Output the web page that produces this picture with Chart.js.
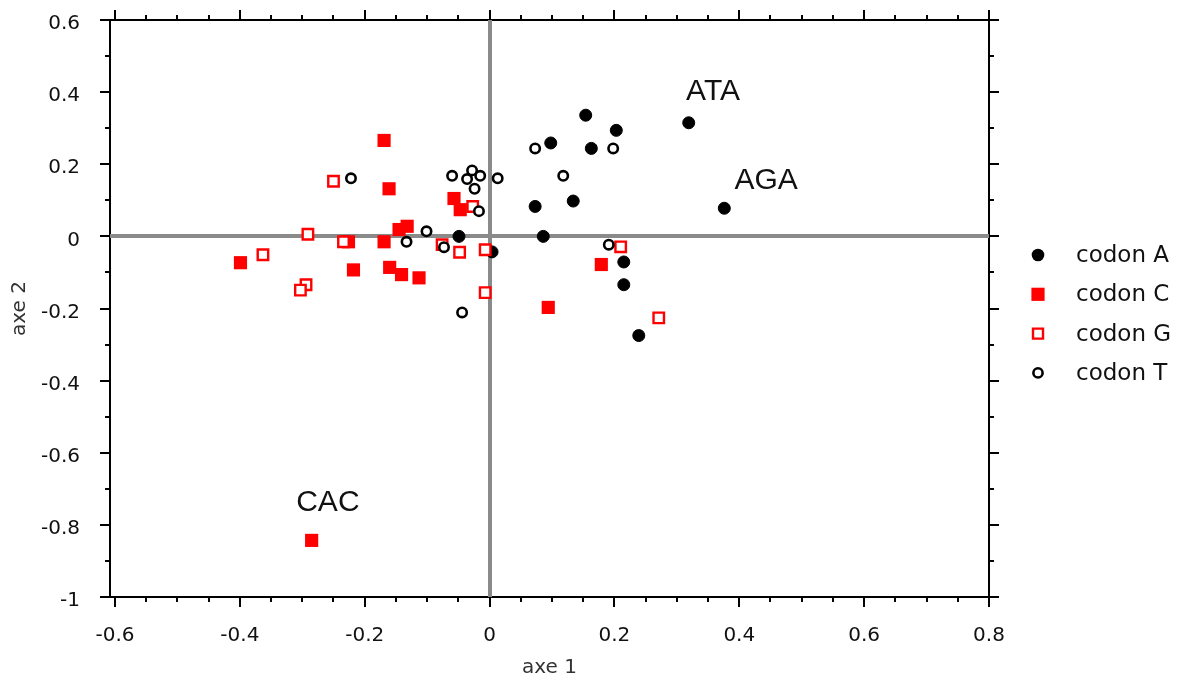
<!DOCTYPE html>
<html>
<head>
<meta charset="utf-8">
<script src="https://cdn.jsdelivr.net/npm/chart.js@4.4.0/dist/chart.umd.min.js"></script>
<style>
  html, body { margin: 0; padding: 0; background: #fff; }
  #wrap { width: 1188px; height: 686px; }
</style>
</head>
<body>
<div id="wrap"><canvas id="chart" width="1188" height="686"></canvas></div>
<script>
// series names
const seriesNames = ['codon A', 'codon C', 'codon G', 'codon T'];

// codon A (black dots)
const codonAx = [0.154, 0.319, 0.203, 0.098, 0.163, 0.073, 0.134, -0.049, 0.086, 0.004, 0.215, 0.215, 0.239, 0.376];
const codonAy = [0.336, 0.315, 0.294, 0.259, 0.244, 0.083, 0.098, 0.000, 0.000, -0.043, -0.071, -0.134, -0.275, 0.078];

// codon C (red squares)
const codonCx = [-0.169, -0.161, -0.057, -0.047, -0.132, -0.145, -0.226, -0.169, -0.399, -0.218, -0.160, -0.141, -0.113, -0.285, 0.094, 0.179];
const codonCy = [0.266, 0.132, 0.105, 0.074, 0.028, 0.019, -0.015, -0.015, -0.073, -0.093, -0.086, -0.106, -0.115, -0.843, -0.197, -0.078];

// codon G (open red squares)
const codonGx = [-0.250, -0.291, -0.363, -0.294, -0.303, -0.234, -0.027, -0.076, -0.048, -0.007, -0.007, 0.210, 0.271];
const codonGy = [0.153, 0.006, -0.051, -0.134, -0.149, -0.015, 0.083, -0.023, -0.044, -0.037, -0.156, -0.029, -0.226];

// codon T (open black circles)
const codonTx = [-0.222, -0.060, -0.028, -0.036, -0.015, -0.024, -0.017, -0.101, -0.133, -0.073, -0.044, 0.013, 0.073, 0.198, 0.118, 0.191];
const codonTy = [0.161, 0.168, 0.183, 0.159, 0.168, 0.132, 0.070, 0.014, -0.015, -0.030, -0.211, 0.161, 0.244, 0.244, 0.168, -0.023];

// tick labels
const xTicks = [-0.6, -0.4, -0.2, 0, 0.2, 0.4, 0.6, 0.8];
const yTicks = [-1, -0.8, -0.6, -0.4, -0.2, 0, 0.2, 0.4, 0.6];

// text labels next to some points (data coords)
const noteText = ['ATA', 'AGA', 'CAC'];
const noteX = [0.358, 0.443, -0.259];
const noteY = [0.400, 0.153, -0.739];

const TICK_FONT = 'DejaVu Sans';

function toPoints(xs, ys) {
    return xs.map((x, i) => ({ x: x, y: ys[i] }));
}

// drop the overhang padding chart.js adds for tick labels
function noPad(s) {
    s.paddingTop = 0; s.paddingBottom = 0;
    s.paddingLeft = 0; s.paddingRight = 0;
}

// gray zero lines behind the points
const zeroLines = {
    id: 'zeroLines',
    beforeDatasetsDraw(chart) {
        const { ctx, chartArea: a, scales: { x, y } } = chart;
        const px = Math.round(x.getPixelForValue(0));
        const py = Math.round(y.getPixelForValue(0));
        ctx.save();
        ctx.strokeStyle = '#8a8a8a';
        ctx.lineWidth = 4;
        ctx.beginPath();
        ctx.moveTo(a.left, py); ctx.lineTo(a.right, py);
        ctx.moveTo(px, a.top); ctx.lineTo(px, a.bottom);
        ctx.stroke();
        ctx.restore();
    }
};

// outward major/minor ticks on all four sides
const frameTicks = {
    id: 'frameTicks',
    afterDraw(chart) {
        const { ctx, chartArea: a, scales: { x, y } } = chart;
        ctx.save();
        ctx.strokeStyle = '#000';
        ctx.lineWidth = 2;
        ctx.beginPath();
        for (let k = 0; k <= 28; k++) {
            const v = -0.6 + k * 0.05;
            const len = k % 4 === 0 ? 10 : 5;
            const px = Math.round(x.getPixelForValue(v));
            ctx.moveTo(px, a.bottom); ctx.lineTo(px, a.bottom + len);
            ctx.moveTo(px, a.top); ctx.lineTo(px, a.top - len);
        }
        for (let k = 0; k <= 16; k++) {
            const v = -1 + k * 0.1;
            const len = k % 2 === 0 ? 10 : 5;
            const py = Math.round(y.getPixelForValue(v));
            ctx.moveTo(a.left, py); ctx.lineTo(a.left - len, py);
            ctx.moveTo(a.right, py); ctx.lineTo(a.right + len, py);
        }
        ctx.stroke();
        ctx.restore();
    }
};

// ATA / AGA / CAC texts and the legend on the right
const notesAndLegend = {
    id: 'notesAndLegend',
    afterDraw(chart) {
        const { ctx, scales: { x, y } } = chart;
        ctx.save();
        ctx.fillStyle = '#111';
        ctx.font = '30px "Liberation Sans", Arial, sans-serif';
        ctx.textAlign = 'center';
        ctx.textBaseline = 'middle';
        noteText.forEach((t, i) => {
            ctx.fillText(t, x.getPixelForValue(noteX[i]), y.getPixelForValue(noteY[i]));
        });

        // legend
        const sizes = [6.3, 6.6, 5, 4.6];
        chart.data.datasets.forEach((ds, i) => {
            const cx = 1038, cy = 255 + i * 39.3;
            ctx.beginPath();
            if (ds.pointStyle === 'circle') {
                ctx.arc(cx, cy, sizes[i], 0, Math.PI * 2);
            } else {
                ctx.rect(cx - sizes[i], cy - sizes[i], sizes[i] * 2, sizes[i] * 2);
            }
            ctx.fillStyle = ds.backgroundColor;
            ctx.fill();
            if (ds.borderWidth > 1) {
                ctx.lineWidth = ds.borderWidth;
                ctx.strokeStyle = ds.borderColor;
                ctx.stroke();
            }
            ctx.fillStyle = '#111';
            ctx.font = '23px "' + TICK_FONT + '"';
            ctx.textAlign = 'left';
            ctx.textBaseline = 'middle';
            ctx.fillText(ds.label, 1076, cy + 1);
        });
        ctx.restore();
    }
};

document.addEventListener('DOMContentLoaded', () => {
    const ctx = document.getElementById('chart').getContext('2d');

    new Chart(ctx, {
        type: 'scatter',
        data: {
            datasets: [
                {
                    label: seriesNames[0],
                    data: toPoints(codonAx, codonAy),
                    pointStyle: 'circle',
                    pointRadius: 6,
                    pointHoverRadius: 6,
                    backgroundColor: '#000',
                    borderColor: '#000',
                    borderWidth: 1,
                    order: 3
                },
                {
                    label: seriesNames[1],
                    data: toPoints(codonCx, codonCy),
                    pointStyle: 'rect',
                    pointRadius: 9.3,
                    pointHoverRadius: 9.3,
                    backgroundColor: '#ff0000',
                    borderColor: '#ff0000',
                    borderWidth: 0,
                    order: 2
                },
                {
                    label: seriesNames[2],
                    data: toPoints(codonGx, codonGy),
                    pointStyle: 'rect',
                    pointRadius: 7.4,
                    pointHoverRadius: 7.4,
                    backgroundColor: '#fff',
                    borderColor: '#ff0000',
                    borderWidth: 2.4,
                    order: 1
                },
                {
                    label: seriesNames[3],
                    data: toPoints(codonTx, codonTy),
                    pointStyle: 'circle',
                    pointRadius: 4.7,
                    pointHoverRadius: 4.7,
                    backgroundColor: '#fff',
                    borderColor: '#000',
                    borderWidth: 2.6,
                    order: 0
                }
            ]
        },
        options: {
            responsive: false,
            animation: false,
            layout: { padding: 0 },
            plugins: {
                legend: { display: false },
                tooltip: { enabled: false }
            },
            scales: {
                x: {
                    type: 'linear',
                    position: 'bottom',
                    min: -0.608,
                    max: 0.8,
                    afterBuildTicks: s => { s.ticks = xTicks.map(v => ({ value: v })); },
                    afterFit: s => { s.height = 89; noPad(s); },
                    ticks: {
                        callback: v => String(v),
                        font: { family: TICK_FONT, size: 20 },
                        color: '#111',
                        padding: 27,
                        maxRotation: 0,
                        autoSkip: false
                    },
                    grid: { display: false, drawTicks: false },
                    border: { display: true, color: '#000', width: 2 },
                    title: {
                        display: true,
                        text: 'axe 1',
                        font: { family: TICK_FONT, size: 20 },
                        color: '#333',
                        padding: { top: 0, bottom: 6 }
                    }
                },
                x2: {
                    type: 'linear',
                    axis: 'x',
                    position: 'top',
                    min: -0.608,
                    max: 0.8,
                    afterFit: s => { s.height = 20; noPad(s); },
                    ticks: { display: false },
                    grid: { display: false, drawTicks: false },
                    border: { display: true, color: '#000', width: 2 }
                },
                y: {
                    type: 'linear',
                    position: 'left',
                    min: -1,
                    max: 0.6,
                    afterBuildTicks: s => { s.ticks = yTicks.map(v => ({ value: v })); },
                    afterFit: s => { s.width = 110; noPad(s); },
                    ticks: {
                        callback: v => String(v),
                        font: { family: TICK_FONT, size: 20 },
                        color: '#111',
                        padding: 30,
                        labelOffset: 4,
                        autoSkip: false
                    },
                    grid: { display: false, drawTicks: false },
                    border: { display: true, color: '#000', width: 2 },
                    title: {
                        display: true,
                        text: 'axe 2',
                        font: { family: TICK_FONT, size: 20 },
                        color: '#333',
                        padding: { top: 8, bottom: 0 }
                    }
                },
                y2: {
                    type: 'linear',
                    axis: 'y',
                    position: 'right',
                    min: -1,
                    max: 0.6,
                    afterFit: s => { s.width = 199; noPad(s); },
                    ticks: { display: false },
                    grid: { display: false, drawTicks: false },
                    border: { display: true, color: '#000', width: 2 }
                }
            }
        },
        plugins: [zeroLines, frameTicks, notesAndLegend]
    });
});
</script>
</body>
</html>
